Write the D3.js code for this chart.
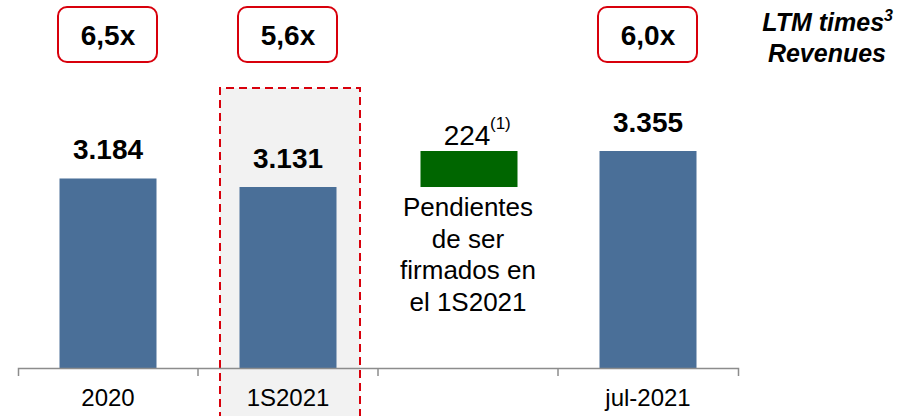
<!DOCTYPE html>
<html>
<head>
<meta charset="utf-8">
<script src="https://cdn.jsdelivr.net/npm/d3@7"></script>
<style>
  body { margin: 0; background: #fff; }
  svg { font-family: "Liberation Sans", Arial, sans-serif; display: block; }
</style>
</head>
<body>
<svg id="chart" width="906" height="416"></svg>
<script>
// data
const categories = ["2020", "1S2021", "pend", "jul-2021"];
const tickLabels = ["2020", "1S2021", "", "jul-2021"];
const values     = [3184, 3131, null, 3355];
const valueLabels = ["3.184", "3.131", "", "3.355"];
const multiples  = ["6,5x", "5,6x", "", "6,0x"];
const pending    = { from: 3131, to: 3355, label: "224", note: "(1)" };
const pendingText = ["Pendientes", "de ser", "firmados en", "el 1S2021"];
const legendLines = ["LTM times", "Revenues"];

const svg = d3.select("#chart");
const blue = "#4a6f98", green = "#006600", red = "#d8000c";

const x = d3.scaleBand().domain(categories).range([18, 738]).padding(0);
// broken value axis, bars do not start at zero
const y = d3.scaleLinear().domain([2005, 3355]).range([368, 151]);
const barW = 97;
const cx = c => x(c) + x.bandwidth() / 2;

// highlight for 1S2021
const hx0 = x("1S2021") + 22, hx1 = x("1S2021") + x.bandwidth() - 18;
svg.append("rect")
  .attr("x", hx0).attr("y", 88)
  .attr("width", hx1 - hx0).attr("height", 340)
  .attr("fill", "#f2f2f2");
svg.append("path")
  .attr("d", `M${hx0},420V88H${hx1}V420`)
  .attr("fill", "none").attr("stroke", red)
  .attr("stroke-width", 2).attr("stroke-dasharray", "8,5");

// bars
categories.forEach((c, i) => {
  if (values[i] == null) return;
  svg.append("rect")
    .attr("x", cx(c) - barW / 2).attr("y", y(values[i]))
    .attr("width", barW).attr("height", y.range()[0] - y(values[i]))
    .attr("fill", blue);
  svg.append("text")
    .attr("x", cx(c)).attr("y", y(values[i]) - 19)
    .attr("text-anchor", "middle")
    .attr("font-size", 28).attr("font-weight", "bold")
    .text(valueLabels[i]);
});

// pending (green) bar
const pc = cx("pend");
svg.append("rect")
  .attr("x", pc - barW / 2 + 1).attr("y", y(pending.to))
  .attr("width", barW).attr("height", y(pending.from) - y(pending.to))
  .attr("fill", green);
svg.append("text")
  .attr("x", pc - 1).attr("y", y(pending.to) - 6)
  .attr("text-anchor", "middle").attr("font-size", 28)
  .text(pending.label);
svg.append("text")
  .attr("x", pc + 22).attr("y", y(pending.to) - 22)
  .attr("font-size", 17)
  .text(pending.note);

pendingText.forEach((t, i) => {
  svg.append("text")
    .attr("x", pc).attr("y", 216 + i * 31.5)
    .attr("text-anchor", "middle").attr("font-size", 26)
    .text(t);
});

// axis
const axis = d3.axisBottom(x)
  .tickSizeInner(0).tickSizeOuter(8).tickPadding(21)
  .tickFormat((d, i) => tickLabels[i]);
const gAxis = svg.append("g")
  .attr("transform", `translate(0,${y.range()[0]})`)
  .call(axis);
gAxis.select(".domain").attr("stroke", "#8c8c8c").attr("stroke-width", 1.5);
gAxis.selectAll("text").attr("font-size", 24).attr("fill", "#000")
  .attr("font-family", "Liberation Sans, Arial, sans-serif");
categories.slice(1).forEach(c => {
  gAxis.append("line")
    .attr("x1", x(c)).attr("x2", x(c)).attr("y1", 0).attr("y2", 8)
    .attr("stroke", "#8c8c8c").attr("stroke-width", 1.5);
});

// multiple boxes
categories.forEach((c, i) => {
  if (!multiples[i]) return;
  svg.append("rect")
    .attr("x", cx(c) - 50).attr("y", 7)
    .attr("width", 99).attr("height", 55)
    .attr("rx", 9)
    .attr("fill", "#fff").attr("stroke", red).attr("stroke-width", 2);
  svg.append("text")
    .attr("x", cx(c)).attr("y", 45)
    .attr("text-anchor", "middle")
    .attr("font-size", 28).attr("font-weight", "bold")
    .text(multiples[i]);
});

// legend text
legendLines.forEach((t, i) => {
  const tx = svg.append("text")
    .attr("x", i === 0 ? 893 : 886).attr("y", 31 + i * 31)
    .attr("text-anchor", "end")
    .attr("font-size", 25).attr("font-weight", "bold").attr("font-style", "italic");
  tx.append("tspan").text(t);
  if (i === 0) tx.append("tspan").attr("dy", -10).attr("font-size", 16).text("3");
});
</script>
</body>
</html>
